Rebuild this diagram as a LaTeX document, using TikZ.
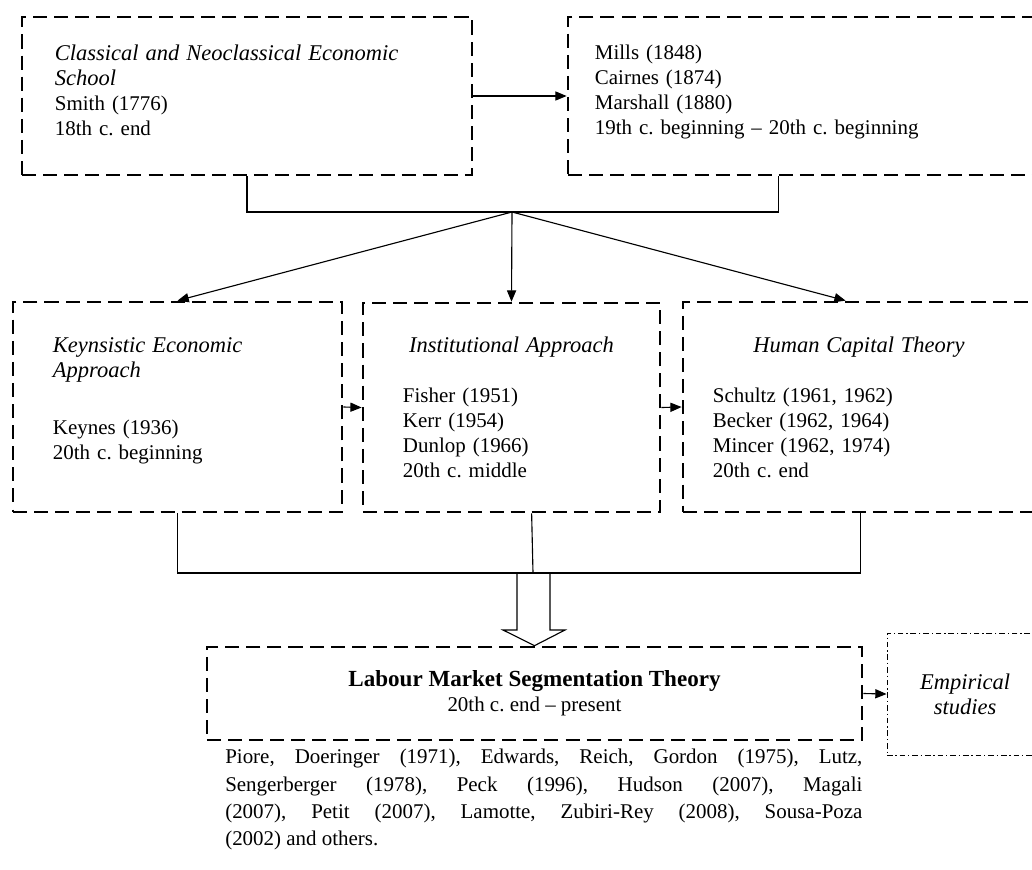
\documentclass[tikz,border=0pt]{standalone}
\usepackage{fontspec}
\setmainfont{Liberation Serif}
\usetikzlibrary{calc,arrows.meta}
\newcommand{\ittl}[1]{{\fontsize{16}{17.8}\selectfont\itshape #1}}
\newcommand{\bftl}[1]{{\fontsize{16.4}{17.8}\selectfont\bfseries #1}}
\newcommand{\liftby}[1]{\par\vspace{#1}\kern0pt}
\begin{document}
\frenchspacing
\begin{tikzpicture}[x=0.025cm,y=-0.025cm,>={Triangle[length=8pt,width=6.5pt]},
	font=\fontsize{14.9}{17.8}\selectfont,
	dbox/.style={draw,line width=1.9pt,dash pattern=on 10pt off 5pt,inner sep=0pt,align=left},
	dotbox/.style={draw,line width=0.6pt,dash pattern=on 4pt off 2pt on 1pt off 2pt,inner sep=0pt,align=center},
	link/.style={line width=0.8pt}]
	\useasboundingbox (0,0) rectangle (1032,869);
	\clip (0,0) rectangle (1032,869);
	% first row
	\node[dbox,minimum width=11.25cm,minimum height=3.95cm,text width=9.6cm] (classical) at (247,96)
		{\ittl{Classical and Neoclassical Economic}\\\ittl{School}\\Smith (1776)\\18th c. end\liftby{7.8pt}};
	\node[dbox,minimum width=12.05cm,minimum height=3.95cm,text width=10.7cm] (mills) at (809,96)
		{Mills (1848)\\Cairnes (1874)\\Marshall (1880)\\19th c. beginning -- 20th c. beginning\liftby{5.7pt}};
	% second row
	\node[dbox,minimum width=8.225cm,minimum height=5.25cm,text width=6.225cm] (keynes) at (177.5,407)
		{\ittl{Keynsistic Economic}\\\ittl{Approach}\\[23pt]Keynes (1936)\\20th c. beginning\liftby{9.2pt}};
	\node[dbox,minimum width=7.425cm,minimum height=5.225cm,text width=5.425cm] (inst) at (511.5,407.5)
		{\makebox[\linewidth]{\ittl{Institutional Approach}}\\[\baselineskip]Fisher (1951)\\Kerr (1954)\\Dunlop (1966)\\20th c. middle};
	\node[dbox,minimum width=8.8cm,minimum height=5.25cm,text width=7.3cm] (hct) at (859,407)
		{\makebox[\linewidth]{\ittl{Human Capital Theory}}\\[\baselineskip]Schultz (1961, 1962)\\Becker (1962, 1964)\\Mincer (1962, 1974)\\20th c. end};
	% third row
	\node[dbox,align=center,minimum width=16.375cm,minimum height=2.325cm] (lmst) at (534.5,693.5)
		{\bftl{Labour Market Segmentation Theory}\\20th c. end -- present};
	\node[dotbox,minimum width=3.9cm,minimum height=3.05cm] (emp) at (965,694)
		{\ittl{Empirical}\\\ittl{studies}};
	\node[anchor=north west,inner sep=0pt,text width=15.925cm,align=justify,font=\fontsize{14.9}{19.4}\selectfont] (refs) at (225,749)
		{Piore, Doeringer (1971), Edwards, Reich, Gordon (1975), Lutz,\linebreak
		Sengerberger (1978), Peck (1996), Hudson (2007), Magali\linebreak
		(2007), Petit (2007), Lamotte, Zubiri-Rey (2008), Sousa-Poza\linebreak
		(2002) and others.};
	% connectors
	\coordinate (top) at (512,212);
	\coordinate (bot) at (533,573);
	\coordinate (millsfoot) at ($(mills.south west)+(212,0)$);
	\coordinate (hcthead) at ($(hct.north west)+(164,0)$);
	\coordinate (instfoot) at ($(inst.south west)+(170,0)$);
	\coordinate (hctfoot) at ($(hct.south west)+(179,0)$);
	\draw[link,->] (classical.east) -- (mills.west);
	\draw[link] (classical.south) |- (top) -| (millsfoot);
	\draw[link,->] (top) -- (keynes.north);
	\draw[link,->] (top) -- (inst.north);
	\draw[link,->] (top) -- (hcthead);
	\draw[link,->] (keynes.east) -- (inst.west);
	\draw[link,->] (inst.east) -- (hct.west);
	\draw[link,fill=white] ($(bot)+(-16,0)$) -- ($(bot)+(-16,57)$) -- ($(bot)+(-30,57)$) -- (lmst.north)
		-- ($(bot)+(32,57)$) -- ($(bot)+(17,57)$) -- ($(bot)+(17,0)$);
	\draw[link] (keynes.south) |- (bot) -| (hctfoot);
	\draw[link] (instfoot) -- (bot);
	\draw[link,->] (lmst.east) -- (emp.west);
\end{tikzpicture}
\end{document}
